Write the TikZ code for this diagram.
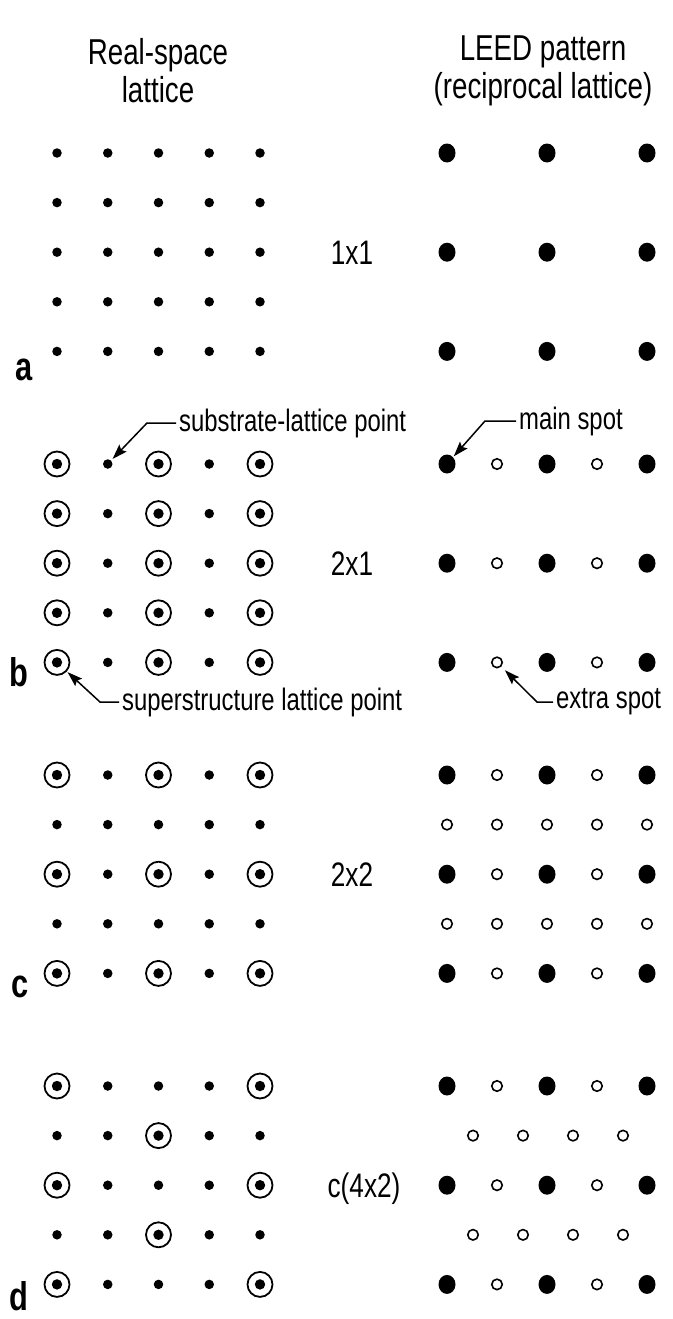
\documentclass[tikz,border=0pt]{standalone}
\usepackage{fontspec}
\setmainfont{Liberation Sans}[FakeStretch=0.77]
\usetikzlibrary{arrows.meta,shapes.geometric}
\tikzset{
  subdot/.style={circle, fill=black, inner sep=0pt, minimum size=9.5pt},
  suppt/.style={circle, draw=black, line width=1.8pt, inner sep=0pt, minimum size=25pt,
    path picture={\fill[black] (path picture bounding box.center) circle (5.2pt);}},
  mainspot/.style={ellipse, fill=black, inner sep=0pt, minimum width=17pt, minimum height=19pt},
  extraspot/.style={circle, draw=black, fill=white, line width=1.6pt, inner sep=0pt, minimum size=10.5pt},
  titletext/.style={align=center, font=\fontsize{36}{38}\selectfont},
  ptext/.style={font=\fontsize{34}{38}\selectfont, inner sep=0pt},
  arrtext/.style={font=\fontsize{31}{34}\selectfont, inner sep=3pt, anchor=west},
  letter/.style={font=\fontsize{40}{44}\selectfont\bfseries, inner sep=0pt, anchor=base},
  arr/.style={line width=1.5pt, -{Stealth[length=15pt,width=10pt,inset=2.5pt]}},
}
\begin{document}
\begin{tikzpicture}[x=1pt,y=-1pt]
\useasboundingbox (0,0) rectangle (672,1319);
% titles
\node[titletext] (t1) at (158,71) {Real-space\\lattice};
\node[titletext] (t2) at (543,71) {LEED pattern\\(reciprocal lattice)};
% ---------- panel a ----------
\foreach \r in {1,...,5}{
  \foreach \c in {1,...,5}
    \node[subdot] (a\r\c) at ({57+50.75*(\c-1)},{153+49.6*(\r-1)}) {};
}
\foreach \r in {1,3,5}{
  \foreach \c in {1,3,5}
    \node[mainspot] (La\r\c) at ({447+50*(\c-1)},{153+49.6*(\r-1)}) {};
}
\node[ptext, anchor=base] (l1) at (352,264) {1x1};
\node[letter] (pa) at (24,380) {a};
% ---------- panel b ----------
\foreach \r in {1,...,5}{
  \foreach \c in {1,3,5}
    \node[suppt] (b\r\c) at ({57+50.75*(\c-1)},{464+49.6*(\r-1)}) {};
  \foreach \c in {2,4}
    \node[subdot] (b\r\c) at ({57+50.75*(\c-1)},{464+49.6*(\r-1)}) {};
}
\foreach \r in {1,3,5}{
  \foreach \c in {1,3,5}
    \node[mainspot] (Lb\r\c) at ({447+50*(\c-1)},{464+49.6*(\r-1)}) {};
  \foreach \c in {2,4}
    \node[extraspot] (Lb\r\c) at ({447+50*(\c-1)},{464+49.6*(\r-1)}) {};
}
\node[ptext, anchor=base] (l2) at (352,575) {2x1};
\node[letter] (pb) at (19,686) {b};
% annotations
\node[arrtext] (tsub) at (176,423) {substrate-lattice point};
\draw[arr, shorten >=2pt] (tsub.west) -- ++(-29,0) -- (b12);
\node[arrtext] (tmain) at (516,421) {main spot};
\draw[arr, shorten >=1pt] (tmain.west) -- ++(-31,0) -- (Lb11);
\node[arrtext] (tsup) at (119,702) {superstructure lattice point};
\draw[arr, shorten >=1pt] (tsup.west) -- ++(-19,0) -- (b51);
\node[arrtext] (textra) at (553,702) {extra spot};
\draw[arr, shorten >=5pt] (textra.west) -- ++(-16,0) -- (Lb52);
% ---------- panel c ----------
\foreach \r in {1,3,5}{
  \foreach \c in {1,3,5}
    \node[suppt] (c\r\c) at ({57+50.75*(\c-1)},{775+49.6*(\r-1)}) {};
  \foreach \c in {2,4}
    \node[subdot] (c\r\c) at ({57+50.75*(\c-1)},{775+49.6*(\r-1)}) {};
  \foreach \c in {1,3,5}
    \node[mainspot] (Lc\r\c) at ({447+50*(\c-1)},{775+49.6*(\r-1)}) {};
  \foreach \c in {2,4}
    \node[extraspot] (Lc\r\c) at ({447+50*(\c-1)},{775+49.6*(\r-1)}) {};
}
\foreach \r in {2,4}{
  \foreach \c in {1,...,5}{
    \node[subdot] (c\r\c) at ({57+50.75*(\c-1)},{775+49.6*(\r-1)}) {};
    \node[extraspot] (Lc\r\c) at ({447+50*(\c-1)},{775+49.6*(\r-1)}) {};
  }
}
\node[ptext, anchor=base] (l3) at (352,886) {2x2};
\node[letter] (pc) at (20,997) {c};
% ---------- panel d ----------
\foreach \r in {1,3,5}{
  \foreach \c in {1,5}
    \node[suppt] (d\r\c) at ({57+50.75*(\c-1)},{1086+49.6*(\r-1)}) {};
  \foreach \c in {2,3,4}
    \node[subdot] (d\r\c) at ({57+50.75*(\c-1)},{1086+49.6*(\r-1)}) {};
  \foreach \c in {1,3,5}
    \node[mainspot] (Ld\r\c) at ({447+50*(\c-1)},{1086+49.6*(\r-1)}) {};
  \foreach \c in {2,4}
    \node[extraspot] (Ld\r\c) at ({447+50*(\c-1)},{1086+49.6*(\r-1)}) {};
}
\foreach \r in {2,4}{
  \foreach \c in {1,2,4,5}
    \node[subdot] (d\r\c) at ({57+50.75*(\c-1)},{1086+49.6*(\r-1)}) {};
  \node[suppt] (d\r3) at ({57+50.75*2},{1086+49.6*(\r-1)}) {};
  \foreach \c in {1,...,4}
    \node[extraspot] (Ld\r\c) at ({473+50*(\c-1)},{1086+49.6*(\r-1)}) {};
}
\node[ptext, anchor=base] (l4) at (364,1197) {c(4x2)};
\node[letter] (pd) at (19,1310) {d};
\end{tikzpicture}
\end{document}
